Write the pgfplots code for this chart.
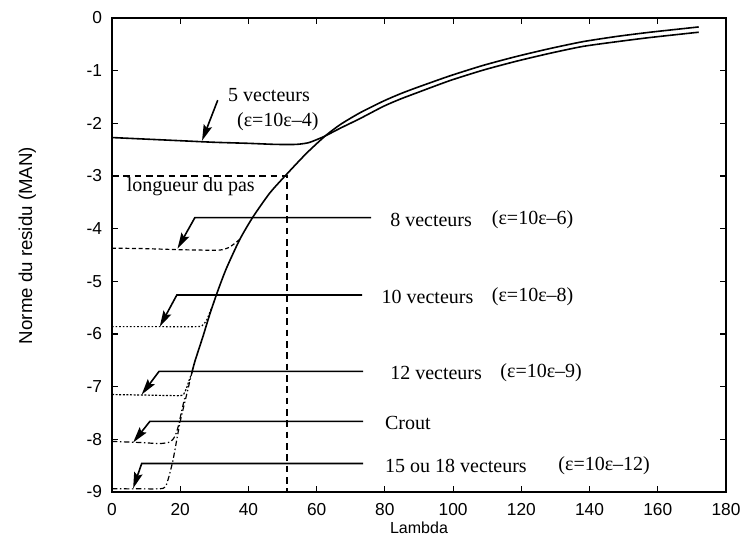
\documentclass[border=0pt]{standalone}
\usepackage{fontspec}
\setmainfont{Liberation Serif}
\newfontfamily\helv{Liberation Sans}
\usepackage{pgfplots}
\pgfplotsset{compat=1.18}
\usetikzlibrary{arrows.meta}

\tikzset{
    annot/.style={black, line width=1.2pt, -{Stealth[length=12pt,width=6.5pt,inset=2pt]}},
    txt/.style={anchor=west, inner sep=0pt, font=\fontsize{15}{17}\selectfont},
}

\begin{document}
\begin{tikzpicture}
\begin{axis}[
    width=460.5pt, height=355.5pt, scale only axis,
    xmin=0, xmax=180, ymin=-9, ymax=0,
    xtick distance=20, ytick distance=1,
    tick align=inside, major tick length=4.5pt,
    every tick/.style={black, line width=0.9pt},
    axis line style={line width=1.2pt},
    /pgf/number format/assume math mode=true,
    tick label style={font=\helv\fontsize{13}{15}\selectfont},
    xticklabel style={yshift=-5pt},
    yticklabel style={xshift=-4pt},
    xlabel={Lambda}, ylabel={Norme du residu (MAN)},
    xlabel style={font=\helv\fontsize{12}{14}\selectfont, at={(axis description cs:0.5,0)}, anchor=north, inner sep=0pt, yshift=-22pt},
    ylabel style={font=\helv\fontsize{14}{16}\selectfont, at={(axis description cs:-0.138,0.52)}, anchor=center, inner sep=0pt},
    clip mode=individual,
]
% main curve
\addplot[black, line width=1.2pt, smooth, tension=0.4] coordinates {
 (23.4,-6.74) (24.3,-6.52) (26.7,-6.04) (28.5,-5.66) (30.8,-5.22) (33.5,-4.76)
 (37.5,-4.20) (41.4,-3.77) (46.3,-3.32) (51.3,-2.96) (57,-2.57) (62.5,-2.24)
 (67,-2.02) (72.7,-1.80) (79.5,-1.58) (84.5,-1.44) (89.4,-1.32) (99,-1.10)
 (108.8,-0.90) (118.6,-0.73) (128.4,-0.58) (138,-0.45) (148,-0.35)
 (157.8,-0.27) (172,-0.17)
};
% 5 vecteurs
\addplot[black, line width=1.2pt, smooth, tension=0.4] coordinates {
 (0,-2.27) (10,-2.30) (20,-2.33) (30,-2.36) (40,-2.38) (48,-2.40) (54,-2.40)
 (57.5,-2.37) (60,-2.31) (62.5,-2.24) (67,-2.09) (72.7,-1.91) (79.5,-1.68)
 (84.5,-1.54) (89.4,-1.42) (99,-1.19) (108.8,-0.99) (118.6,-0.82)
 (128.4,-0.67) (138,-0.54) (148,-0.45) (157.8,-0.37) (172,-0.27)
};
% 8 vecteurs
\addplot[black, line width=0.9pt, dash pattern=on 3pt off 2pt, smooth, tension=0.4] coordinates {
 (0,-4.37) (10,-4.38) (20,-4.40) (30,-4.41) (32.3,-4.40) (34.2,-4.36) (36,-4.28) (37.5,-4.20)
};
% 10 vecteurs
\addplot[black, line width=0.9pt, dash pattern=on 1.2pt off 1.5pt, smooth, tension=0.4] coordinates {
 (0,-5.86) (12,-5.86) (25,-5.86) (26.6,-5.83) (27.8,-5.73) (29.2,-5.50)
};
% 12 vecteurs
\addplot[black, line width=0.9pt, dash pattern=on 1.5pt off 1.2pt, smooth, tension=0.4] coordinates {
 (0,-7.15) (10,-7.16) (20,-7.17) (21.2,-7.12) (21.9,-7.02) (22.6,-6.88) (23.4,-6.74)
};
% Crout
\addplot[black, line width=0.9pt, dash pattern=on 4pt off 2pt on 1pt off 2pt, smooth, tension=0.4] coordinates {
 (0,-8.04) (8,-8.06) (14,-8.08) (17,-8.05) (18.4,-7.95) (19.4,-7.76) (20.5,-7.44) (21.3,-7.22)
};
% 15 ou 18 vecteurs
\addplot[black, line width=0.9pt, dash pattern=on 4pt off 2pt on 1pt off 2pt, smooth, tension=0.4] coordinates {
 (0,-8.94) (8,-8.94) (15,-8.93) (16.4,-8.77) (17.9,-8.39) (19.9,-7.69) (22,-7.12) (23.4,-6.74)
};
% longueur du pas
\addplot[black, line width=1.1pt, dash pattern=on 5pt off 3.5pt] coordinates {
 (0,-3) (51.3,-3) (51.3,-9)
};
% arrows
\addplot[annot] coordinates {(31,-1.56) (26.4,-2.33)};
\addplot[annot] coordinates {(76,-3.79) (24.3,-3.79) (19.2,-4.38)};
\addplot[annot] coordinates {(73.3,-5.26) (19,-5.26) (14,-5.86)};
\addplot[annot] coordinates {(73.6,-6.71) (13.8,-6.71) (8.7,-7.15)};
\addplot[annot] coordinates {(73.6,-7.66) (11.1,-7.66) (6.2,-8.06)};
\addplot[annot] coordinates {(73.6,-8.46) (8.7,-8.46) (6.2,-8.93)};
% labels
\node[txt] at (axis cs:34,-1.46) {5 vecteurs};
\node[txt] at (axis cs:36.6,-1.97) {(ε=10ε–4)};
\node[txt] at (axis cs:4.3,-3.2) {longueur du pas};
\node[txt] at (axis cs:81.5,-3.83) {8 vecteurs};
\node[txt] at (axis cs:111.3,-3.83) {(ε=10ε–6)};
\node[txt] at (axis cs:79,-5.29) {10 vecteurs};
\node[txt] at (axis cs:111.3,-5.29) {(ε=10ε–8)};
\node[txt] at (axis cs:81.5,-6.74) {12 vecteurs};
\node[txt] at (axis cs:113.8,-6.74) {(ε=10ε–9)};
\node[txt] at (axis cs:80,-7.69) {Crout};
\node[txt] at (axis cs:80,-8.51) {15 ou 18 vecteurs};
\node[txt] at (axis cs:130.8,-8.51) {(ε=10ε–12)};
\end{axis}
\pgfresetboundingbox
\path ([shift={(-84pt,-35.25pt)}]current axis.south west) rectangle ([shift={(12.75pt,13.5pt)}]current axis.north east);
\end{tikzpicture}
\end{document}
